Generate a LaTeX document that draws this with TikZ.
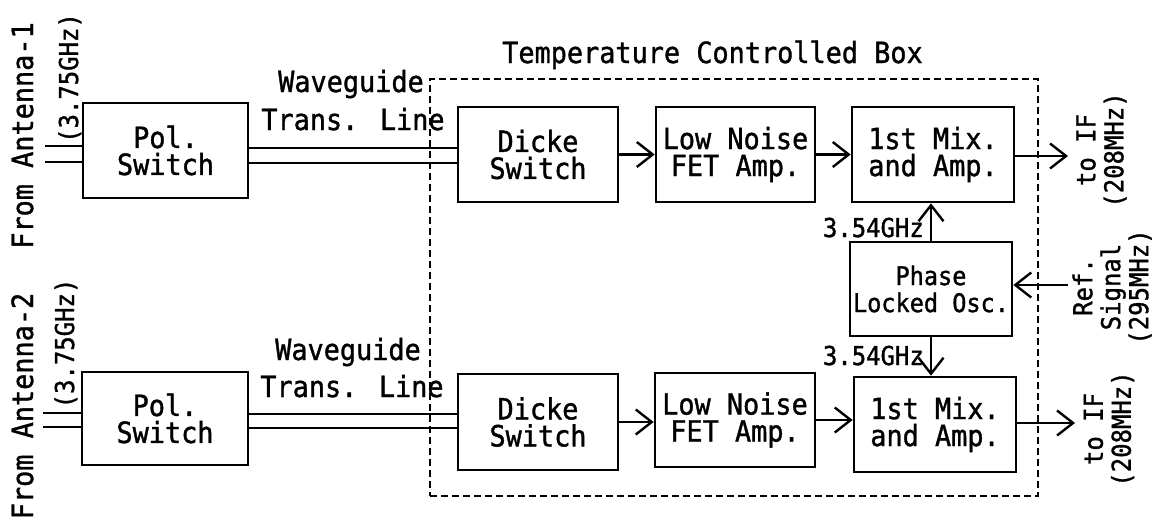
\documentclass[tikz,border=0pt]{standalone}
\usepackage{fontspec}
\setmainfont{DejaVu Sans Mono}[FakeStretch=0.92, FakeBold=1.2]
\usetikzlibrary{arrows.meta}
\newcommand{\fbig}{\fontsize{29.2}{27}\selectfont}
\newcommand{\fsmall}{\fontsize{26}{28}\selectfont}
\tikzset{
  blk/.style={draw, line width=2.6pt, inner sep=0pt, align=center, font=\fbig},
  wg/.style={line width=2pt},
  arr/.style={line width=2.4pt, -{Straight Barb[length=16pt,width=25pt]}},
  lbl/.style={inner sep=0pt, font=\fbig},
  slbl/.style={inner sep=0pt, font=\fsmall},
  tcbox/.style={draw, line width=1.8pt, dash pattern=on 7pt off 4pt, inner sep=0pt}
}
\begin{document}
\begin{tikzpicture}[x=1pt,y=-1pt]
\useasboundingbox (0,0) rectangle (1159,523);
% temperature controlled box
\node[tcbox, minimum width=608pt, minimum height=417pt] (tcb) at (734,287.5) {};
\node[lbl, anchor=base] (tcbl) at (712.5,63) {Temperature Controlled Box};
% upper chain
\node[blk, minimum width=165pt, minimum height=95pt] (pol1) at (165.5,150.5) {Pol.\\Switch};
\node[blk, minimum width=160pt, minimum height=95pt] (dicke1) at (538,154.5) {Dicke\\Switch};
\node[blk, minimum width=159pt, minimum height=95pt] (lna1) at (735.5,154.5) {Low Noise\\FET Amp.};
\node[blk, minimum width=162pt, minimum height=95pt] (mix1) at (933,154.5) {1st Mix.\\and Amp.};
\node[blk, minimum width=162pt, minimum height=94pt, font=\fontsize{25.6}{27}\selectfont] (plo) at (931,289) {Phase\\Locked Osc.};
% lower chain
\node[blk, minimum width=166pt, minimum height=93pt] (pol2) at (165,418.5) {Pol.\\Switch};
\node[blk, minimum width=160pt, minimum height=96pt] (dicke2) at (538,422) {Dicke\\Switch};
\node[blk, minimum width=160pt, minimum height=94pt] (lna2) at (735,420) {Low Noise\\FET Amp.};
\node[blk, minimum width=162pt, minimum height=95pt] (mix2) at (935,424.5) {1st Mix.\\and Amp.};
% inputs
\coordinate (in1a) at (45,146);
\coordinate (in1b) at (45,162);
\coordinate (in2a) at (43,413);
\coordinate (in2b) at (43,427);
\draw[wg] (in1a) -- (pol1.west |- in1a);
\draw[wg] (in1b) -- (pol1.west |- in1b);
\draw[wg] (in2a) -- (pol2.west |- in2a);
\draw[wg] (in2b) -- (pol2.west |- in2b);
\node[lbl, rotate=90, anchor=base] (ant1) at (33,135.5) {From Antenna-1};
\node[slbl, rotate=90, anchor=base] (f1) at (78,78) {(3.75GHz)};
\node[lbl, rotate=90, anchor=base] (ant2) at (33,406) {From Antenna-2};
\node[slbl, rotate=90, anchor=base] (f2) at (74,343.5) {(3.75GHz)};
% waveguides
\coordinate (w1a) at (0,148);
\coordinate (w1b) at (0,163);
\coordinate (w2a) at (0,414);
\coordinate (w2b) at (0,428);
\draw[wg] (pol1.east |- w1a) -- (dicke1.west |- w1a);
\draw[wg] (pol1.east |- w1b) -- (dicke1.west |- w1b);
\draw[wg] (pol2.east |- w2a) -- (dicke2.west |- w2a);
\draw[wg] (pol2.east |- w2b) -- (dicke2.west |- w2b);
\node[lbl, anchor=base] (wgl1) at (351,92) {Waveguide};
\node[lbl, anchor=base] (trl1) at (353,130) {Trans. Line};
\node[lbl, anchor=base] (wgl2) at (348,360) {Waveguide};
\node[lbl, anchor=base] (trl2) at (352,397) {Trans. Line};
% arrows
\draw[arr] (dicke1.east) -- (lna1.west);
\draw[arr] (lna1.east) -- (mix1.west);
\draw[arr] (dicke2.east) -- (dicke2.east -| lna2.west);
\draw[arr] (lna2.east) -- (lna2.east -| mix2.west);
\coordinate (if1) at (1068,156);
\coordinate (if2) at (1075,423);
\draw[arr] (mix1.east |- if1) -- (if1);
\draw[arr] (mix2.east |- if2) -- (if2);
\draw[arr] (plo.north) -- (plo.north |- mix1.south);
\draw[arr] (plo.south) -- (plo.south |- mix2.north);
\coordinate (ref) at (1068,285);
\draw[arr] (ref) -- (plo.east |- ref);
\node[slbl, anchor=base east] (ghz1) at (924,237) {3.54GHz};
\node[slbl, anchor=base east] (ghz2) at (924,365) {3.54GHz};
\node[slbl, rotate=90, align=center] (ifl1) at (1101.5,150) {to IF\\(208MHz)};
\node[slbl, rotate=90, align=center] (ifl2) at (1109,429) {to IF\\(208MHz)};
\node[slbl, rotate=90, align=center] (refl) at (1112,287) {Ref.\\Signal\\(295MHz)};
\end{tikzpicture}
\end{document}
